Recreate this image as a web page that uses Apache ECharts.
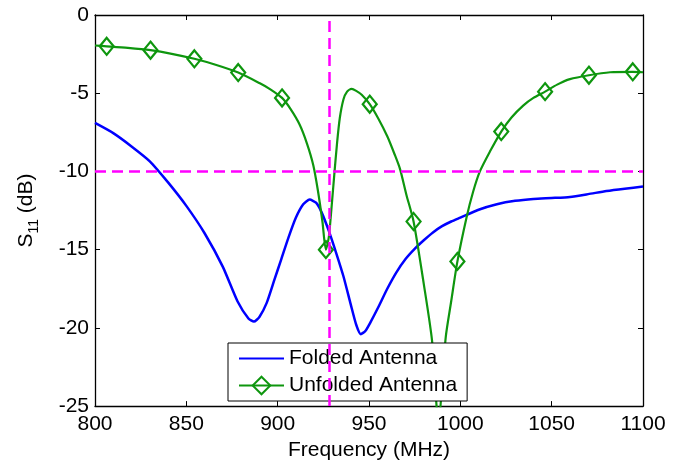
<!DOCTYPE html>
<html>
<head>
<meta charset="utf-8">
<script src="https://cdn.jsdelivr.net/npm/echarts@6/dist/echarts.min.js"></script>
<style>html,body{margin:0;padding:0;background:#fff}#c{width:685px;height:466px}</style>
</head>
<body>
<div id="c"></div>
<script>
// ---- data ----
const xTicks = [800, 850, 900, 950, 1000, 1050, 1100];
const yTicks = [-25, -20, -15, -10, -5, 0];

const foldedFreq = [800,810,820,830,840,850,860,870,878,884,887,890,894,898,902,906,910,914,917.5,921,924,928,932,936,940,943,945.5,948,951,955,960,965,970,975,980,985,990,995,1000,1010,1020,1030,1040,1050,1060,1070,1080,1090,1100];
const foldedS11 = [-6.9,-7.55,-8.4,-9.35,-10.7,-12.2,-13.95,-16.1,-18.3,-19.4,-19.6,-19.3,-18.4,-17.0,-15.6,-14.2,-12.95,-12.1,-11.8,-12.0,-12.6,-13.8,-15.2,-16.7,-18.5,-19.8,-20.4,-20.2,-19.6,-18.7,-17.5,-16.45,-15.6,-14.95,-14.4,-13.9,-13.5,-13.2,-12.95,-12.45,-12.1,-11.88,-11.76,-11.7,-11.63,-11.45,-11.25,-11.1,-10.97];

const unfoldedFreq = [800,806.4,818,830.4,842,854.4,866,878.4,890,896,902.4,907,912,916,919.5,922,924.5,926.4,928,929.5,931,932.5,934,936,938,940.5,943,946,950.4,955,960,964,967,970.5,974.4,980,984.5,988,992,995,998.4,1003.4,1007,1010.7,1016.2,1022.4,1028,1034.4,1040,1046.4,1053,1060,1070.4,1082,1094.4,1100];
const unfoldedS11 = [-1.95,-2.0,-2.1,-2.25,-2.48,-2.8,-3.18,-3.68,-4.35,-4.75,-5.3,-6.0,-7.0,-8.2,-9.6,-11.2,-13.2,-15.0,-14.2,-12.3,-10.2,-8.2,-6.6,-5.4,-4.9,-4.72,-4.85,-5.1,-5.7,-6.6,-7.75,-8.9,-9.85,-11.5,-13.2,-17.2,-20.8,-26,-20.6,-18.3,-15.75,-12.94,-11.3,-10.0,-8.73,-7.45,-6.55,-5.79,-5.3,-4.9,-4.45,-4.1,-3.85,-3.66,-3.63,-3.66];
const unfoldedMarkerFreq = [806.4,830.4,854.4,878.4,902.4,926.4,950.4,974.4,998.4,1022.4,1046.4,1070.4,1094.4];

const thresholdDB = -10;
const centerFreq = 928;

// ---- chart ----
const FONT = 'Liberation Sans, Arial, sans-serif';
const BLUE = '#0000ff', GREEN = '#0e960e', MAG = '#ff00ff';

const foldedData = foldedFreq.map((f, i) => [f, foldedS11[i]]);
const unfoldedData = unfoldedFreq.map((f, i) => (
  unfoldedMarkerFreq.indexOf(f) >= 0 ? { value: [f, unfoldedS11[i]] }
                                       : { value: [f, unfoldedS11[i]], symbol: 'none' }
));

const axisCommon = {
  axisLine: { show: true, onZero: false, lineStyle: { color: '#000', width: 1.3 } },
  axisTick: { show: true, inside: true, length: 5, lineStyle: { color: '#000', width: 1 } },
  splitLine: { show: false }
};

const chart = echarts.init(document.getElementById('c'), null, { renderer: 'canvas' });
chart.setOption({
  animation: false,
  backgroundColor: '#fff',
  textStyle: { fontFamily: FONT },
  grid: { left: 95, right: 42, top: 15, bottom: 55, containLabel: false },
  xAxis: [
    Object.assign({
      type: 'value', min: xTicks[0], max: xTicks[xTicks.length - 1], interval: 50, position: 'bottom',
      name: 'Frequency (MHz)', nameLocation: 'middle', nameGap: 31,
      nameTextStyle: { fontSize: 21, color: '#000', fontFamily: FONT },
      axisLabel: { fontSize: 21, color: '#000', margin: 8, fontFamily: FONT, formatter: v => String(v) }
    }, axisCommon),
    Object.assign({
      type: 'value', min: xTicks[0], max: xTicks[xTicks.length - 1], interval: 50, position: 'top',
      axisLabel: { show: false }
    }, axisCommon)
  ],
  yAxis: [
    Object.assign({
      type: 'value', min: yTicks[0], max: yTicks[yTicks.length - 1], interval: 5, position: 'left',
      name: '{m|S}{s|11}{m| (dB)}', nameLocation: 'middle', nameRotate: 90, nameGap: 58,
      nameTextStyle: {
        color: '#000', fontFamily: FONT,
        rich: {
          m: { fontSize: 21, lineHeight: 21, verticalAlign: 'top', color: '#000', fontFamily: FONT },
          s: { fontSize: 14, lineHeight: 14, verticalAlign: 'top', padding: [11, 0, 0, 0], color: '#000', fontFamily: FONT }
        }
      },
      axisLabel: { fontSize: 21, color: '#000', margin: 6, fontFamily: FONT, formatter: v => String(v) }
    }, axisCommon),
    Object.assign({
      type: 'value', min: yTicks[0], max: yTicks[yTicks.length - 1], interval: 5, position: 'right',
      axisLabel: { show: false }
    }, axisCommon)
  ],
  legend: {
    orient: 'vertical', left: 228, top: 343,
    padding: [5, 10, 5, 10], itemGap: 6, itemWidth: 45, itemHeight: 22,
    backgroundColor: '#fff', borderColor: '#000', borderWidth: 1, borderRadius: 0,
    textStyle: { fontSize: 21, color: '#000', fontFamily: FONT },
    data: [
      { name: 'Folded Antenna', itemStyle: { opacity: 0 } },
      { name: 'Unfolded Antenna' }
    ]
  },
  series: [
    {
      name: 'Folded Antenna', type: 'line', xAxisIndex: 0, yAxisIndex: 0,
      data: foldedData, symbol: 'none', smooth: 0.2,
      lineStyle: { color: BLUE, width: 2.5 }, itemStyle: { color: BLUE }, z: 2
    },
    {
      name: 'Unfolded Antenna', type: 'line', xAxisIndex: 0, yAxisIndex: 0,
      data: unfoldedData, symbol: 'diamond', symbolSize: [14, 17], showSymbol: true, smooth: 0.25,
      lineStyle: { color: GREEN, width: 2.2 },
      itemStyle: { color: 'rgba(255,255,255,0)', borderColor: GREEN, borderWidth: 2.2 }, z: 3
    },
    {
      name: 'ref', type: 'line', xAxisIndex: 0, yAxisIndex: 0, data: [], z: 4,
      markLine: {
        silent: true, symbol: 'none', label: { show: false },
        lineStyle: { color: MAG, width: 2.5, type: [11, 6] },
        data: [{ yAxis: thresholdDB }, { xAxis: centerFreq }]
      }
    }
  ]
});
</script>
</body>
</html>
